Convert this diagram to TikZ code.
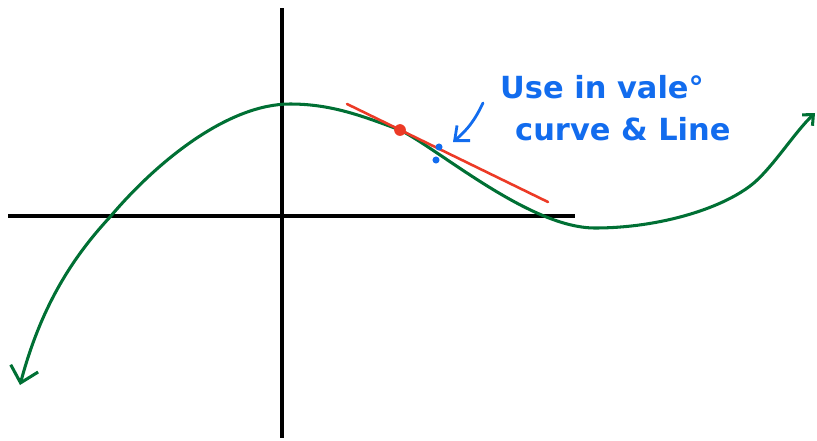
\documentclass[tikz,border=0pt]{standalone}
\usepackage{fontspec}
\setsansfont{DejaVu Sans}
\usetikzlibrary{arrows.meta,positioning}
\definecolor{inkgreen}{RGB}{0,112,52}
\definecolor{inkred}{RGB}{236,58,38}
\definecolor{inkblue}{RGB}{18,108,238}
\tikzset{
  axis/.style={line width=3.4pt, black},
  curveline/.style={line width=2.6pt, inkgreen, line cap=round},
  tangent/.style={line width=2.2pt, inkred, line cap=round},
  handarrow/.style={-{Straight Barb[length=3.5mm,width=6mm,line width=2.4pt]}},
  reddot/.style={circle, fill=inkred, minimum size=10pt, inner sep=0pt},
  bluedot/.style={circle, fill=inkblue, minimum size=6pt, inner sep=0pt},
  note/.style={inkblue, anchor=base west, font=\sffamily\bfseries\fontsize{26}{30}\selectfont, inner sep=0pt}
}
\begin{document}
\begin{tikzpicture}[x=0.03cm, y=-0.03cm]
\useasboundingbox (0,0) rectangle (817,440);
% axes
\coordinate (xl) at (8,216);
\coordinate (xr) at (575,216);
\coordinate (yt) at (282,8);
\coordinate (yb) at (282,438);
\draw[axis] (xl) -- (xr);
\draw[axis] (yt) -- (yb);
% the curve
\coordinate (c0) at (20,385);
\coordinate (c1) at (110,217);
\coordinate (c2) at (290,104);
\coordinate (c3) at (400,130);
\coordinate (c4) at (595,228);
\coordinate (c5) at (755,182);
\coordinate (c6) at (815,113);
\draw[curveline, {Straight Barb[length=4.5mm,width=8.5mm,line width=2.6pt]}-{Straight Barb[length=2.5mm,width=4.5mm,line width=2.6pt]}]
  (c0) .. controls (40,310) and (70,260) .. (c1)
       .. controls (160,158) and (230,104) .. (c2)
       .. controls (330,104) and (360,115) .. (c3)
       .. controls (440,150) and (530,228) .. (c4)
       .. controls (660,228) and (725,208) .. (c5)
       .. controls (775,164) and (795,132) .. (c6);
% tangent line
\coordinate (ta) at (347,104);
\coordinate (tb) at (548,202);
\draw[tangent] (ta) -- (tb);
\node[reddot] (touch) at (c3) {};
\node[bluedot] (gapa) at (439,147) {};
\node[bluedot] (gapb) at (436,160) {};
% note
\node[note] (line1) at (500,98) {Use in vale°};
\node[note] (line2) at (515,140) {curve \& Line};
\coordinate (from) at (483,103);
\coordinate (to) at (453,142);
\draw[handarrow, inkblue, line width=2.4pt, line cap=round] (from) to[bend left=12] (to);
\end{tikzpicture}
\end{document}
